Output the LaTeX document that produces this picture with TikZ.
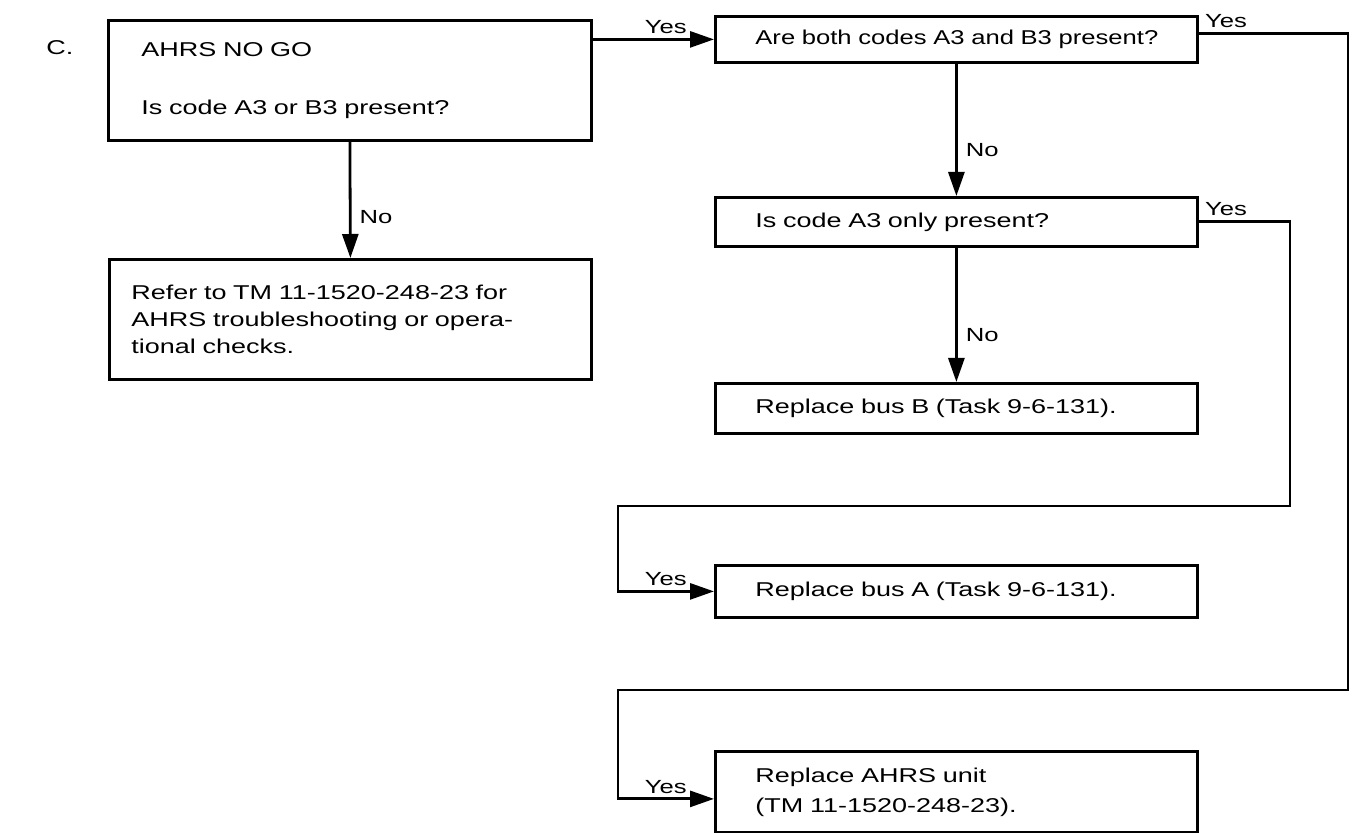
\documentclass[tikz,border=0pt]{standalone}
\usepackage{fontspec}
\setmainfont{Liberation Sans}[FakeStretch=1.35]
\newfontfamily\condfont{Liberation Sans}[FakeStretch=1.28]
\usetikzlibrary{arrows.meta, calc}

\begin{document}
\begin{tikzpicture}[
    x=0.5pt, y=-0.5pt,
    font=\fontsize{10}{13.5}\selectfont,
    chartbox/.style={rectangle, draw, line width=1.4pt, anchor=north west, align=left, inner ysep=0pt, minimum width=241pt, text width=201pt, inner xsep=20pt},
    arr/.style={-{Triangle[length=12pt, width=8pt]}, line width=1.4pt},
    lbl/.style={inner sep=0pt, font=\fontsize{9.5}{11}\selectfont}
]
\useasboundingbox (0,0) rectangle (1357,833);

\node[anchor=base west, inner sep=0pt] (part) at (46,55) {C.};

% left column
\node[chartbox, minimum width=241.5pt, minimum height=60pt, text width=208.5pt, inner xsep=16.5pt] (nogo) at (107,19) {AHRS NO GO\\[15.5pt]Is code A3 or B3 present?};
\node[chartbox, minimum height=60pt, text width=219pt, inner xsep=11pt] (refer) at (108,258) {Refer to TM 11-1520-248-23 for\\AHRS troubleshooting or opera-\\tional checks.};

% right column
\node[chartbox, minimum height=23pt] (bothq) at (714,15) {\mbox{\condfont Are both codes A3 and B3 present?}};
\node[chartbox, minimum height=24.5pt] (onlyq) at (714,196) {Is code A3 only present?};
\node[chartbox, minimum height=25pt] (busb) at (714,382) {Replace bus B (Task 9-6-131).};
\node[chartbox, minimum height=26pt] (busa) at (714,564) {Replace bus A (Task 9-6-131).};
\node[chartbox, minimum height=40.5pt] (ahrs) at (714,750) {Replace AHRS unit\\[1.5pt](TM 11-1520-248-23).};

\coordinate (bothout) at ([yshift=3pt]bothq.east);
\coordinate (ahrsin) at ([yshift=-3.5pt]ahrs.west);

% connectors
\draw[arr] (nogo.south) -- node[lbl, right=4pt, pos=0.65] {No} (refer.north);
\draw[arr] (nogo.east |- bothq.west) -- node[lbl, pos=1, anchor=south east, xshift=-13pt, yshift=2pt] {Yes} (bothq.west);
\draw[arr] (bothq.south) -- node[lbl, right=4pt, pos=0.65] {No} (onlyq.north);
\draw[arr] (onlyq.south) -- node[lbl, right=4pt, pos=0.65] {No} (busb.north);
\draw[arr] (onlyq.east) node[lbl, anchor=south west, xshift=2.5pt, yshift=2.5pt] {Yes}
    -| (1290,506) -| ($(busa.west)+(-96,0)$)
    -- node[lbl, pos=1, anchor=south east, xshift=-13pt, yshift=2pt] {Yes} (busa.west);
\draw[arr] (bothout) node[lbl, anchor=south west, xshift=2.5pt, yshift=2pt] {Yes}
    -| (1348,690) -| ($(ahrsin)+(-96,0)$)
    -- node[lbl, pos=1, anchor=south east, xshift=-13pt, yshift=2pt] {Yes} (ahrsin);

\end{tikzpicture}
\end{document}
